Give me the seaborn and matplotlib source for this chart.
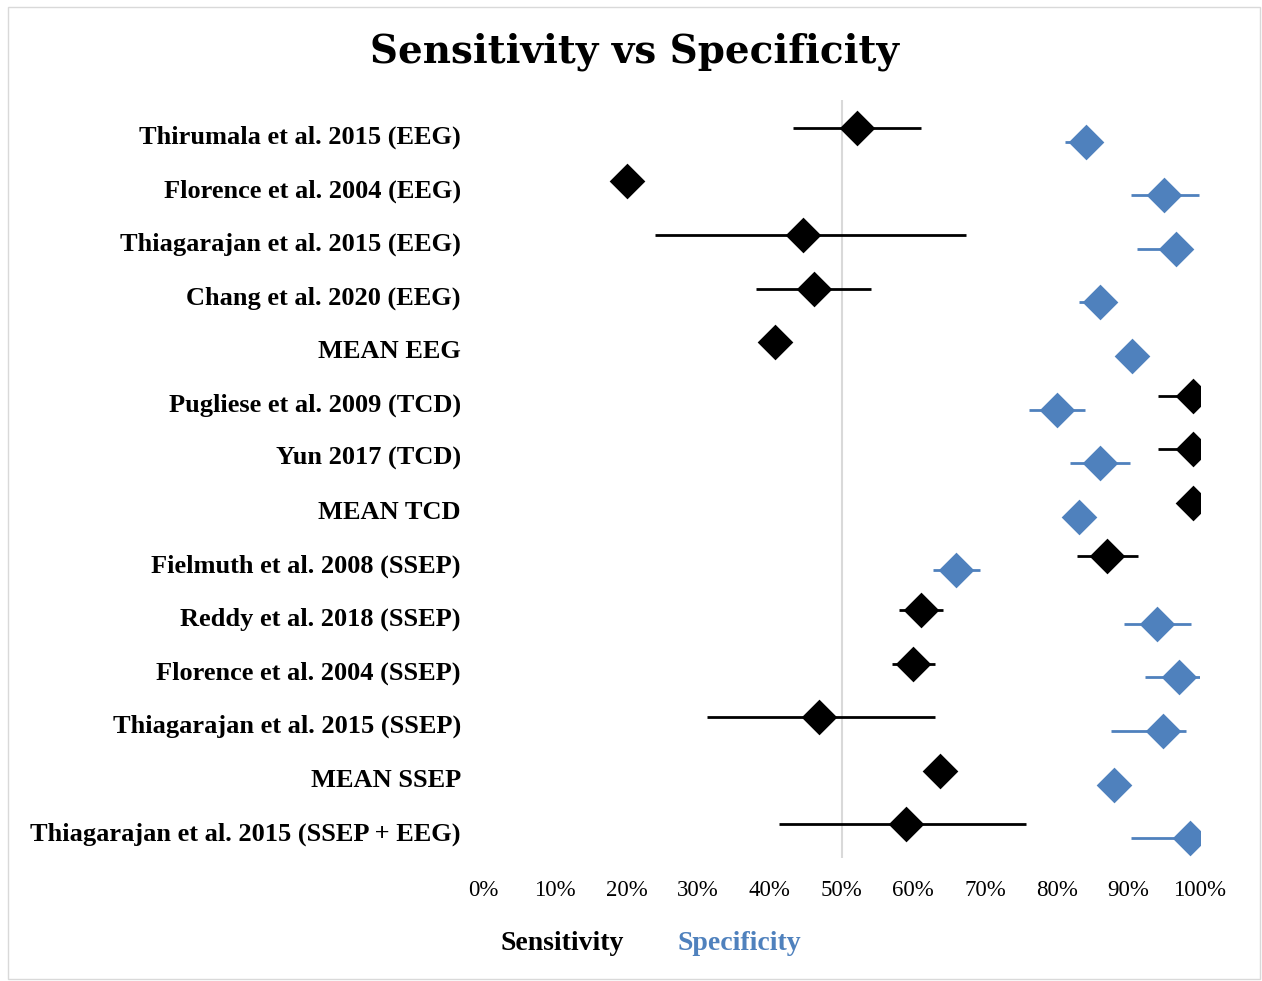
import numpy as np
import pandas as pd
import matplotlib
matplotlib.use("Agg")
import matplotlib.pyplot as plt
import seaborn as sns
from matplotlib.patches import Rectangle

nan = np.nan
labels = ["Thirumala et al. 2015 (EEG)", "Florence et al. 2004 (EEG)",
          "Thiagarajan et al. 2015 (EEG)", "Chang et al. 2020 (EEG)", "MEAN EEG",
          "Pugliese et al. 2009 (TCD)", "Yun 2017 (TCD)", "MEAN TCD",
          "Fielmuth et al. 2008 (SSEP)", "Reddy et al. 2018 (SSEP)",
          "Florence et al. 2004 (SSEP)", "Thiagarajan et al. 2015 (SSEP)",
          "MEAN SSEP", "Thiagarajan et al. 2015 (SSEP + EEG)"]
sens    = [52.1, 20.1, 44.6, 46.1, 40.7, 99.0, 99.0, 99.0, 87.0, 61.1, 60.0, 46.8, 63.8, 59.0]
sens_lo = [43.3, nan, 24.0, 38.1, nan, 94.1, 94.1, 96.9, 82.8, 58.0, 57.1, 31.2, nan, 41.3]
sens_hi = [61.1, nan, 67.3, 54.1, nan, 100., 100., 100., 91.4, 64.2, 63.1, 63.1, nan, 75.7]
spec    = [84.1, 95.0, 96.6, 86.1, 90.5, 80.1, 86.1, 83.1, 66.0, 94.0, 97.1, 94.9, 88.0, 98.6]
spec_lo = [81.2, 90.4, 91.2, 83.1, nan, 76.1, 81.8, nan, 62.8, 89.4, 92.3, 87.6, nan, 90.4]
spec_hi = [86.0, 99.9, 98.8, 88.0, nan, 84.0, 90.3, nan, 69.3, 98.8, 100., 98.0, nan, 100.]
xticks = [0, 10, 20, 30, 40, 50, 60, 70, 80, 90, 100]

BLUE = "#4F81BD"
BLACK = "#000000"

sns.set_theme(style="white")
plt.rcParams['font.family'] = ['Liberation Serif', 'DejaVu Serif']
plt.rcParams['text.color'] = BLACK
plt.rcParams['xtick.color'] = BLACK
plt.rcParams['ytick.color'] = BLACK

pos = np.arange(len(labels))
off = 0.13
df = pd.DataFrame({
    "label": labels, "pos": pos,
    "sens": np.array(sens) / 100, "sens_lo": np.array(sens_lo) / 100, "sens_hi": np.array(sens_hi) / 100,
    "spec": np.array(spec) / 100, "spec_lo": np.array(spec_lo) / 100, "spec_hi": np.array(spec_hi) / 100,
})
df["ys"] = df["pos"] - off
df["yp"] = df["pos"] + off

fig = plt.figure(figsize=(12.62, 9.81), dpi=100)
ax = fig.add_axes([483 / 1262, 123 / 981, 717 / 1262, 758 / 981])

ax.axvline(0.5, color="#D9D9D9", lw=1.5, zorder=0)

m = df["sens_lo"].notna()
ax.hlines(df.loc[m, "ys"], df.loc[m, "sens_lo"], df.loc[m, "sens_hi"], color=BLACK, lw=2.0, zorder=2)
m = df["spec_lo"].notna()
ax.hlines(df.loc[m, "yp"], df.loc[m, "spec_lo"], df.loc[m, "spec_hi"], color=BLUE, lw=2.0, zorder=2)

sns.scatterplot(data=df, x="sens", y="ys", marker="D", s=330, color=BLACK, edgecolor=BLACK,
                linewidth=0, ax=ax, zorder=3, legend=False)
sns.scatterplot(data=df, x="spec", y="yp", marker="D", s=330, color=BLUE, edgecolor=BLUE,
                linewidth=0, ax=ax, zorder=3, legend=False)

ax.set_xlim(0, 1)
ax.set_ylim(13.5, -0.65)
ax.set_yticks(pos)
ax.set_yticklabels(labels, fontsize=19, fontweight="bold")
ax.set_xticks(np.array(xticks) / 100)
ax.set_xticklabels([f"{t}%" for t in xticks], fontsize=16.5)
ax.tick_params(axis="y", length=0, pad=16)
ax.tick_params(axis="x", length=0, pad=16)
ax.set_xlabel("")
ax.set_ylabel("")
for s in ax.spines.values():
    s.set_visible(False)

fig.text(634 / 1262, 1 - 52 / 981, "Sensitivity vs Specificity", ha="center", va="center",
         fontsize=28, fontweight="bold", family=["DejaVu Serif"])
fig.text(562 / 1262, 1 - 944 / 981, "Sensitivity", ha="center", va="center",
         fontsize=20, fontweight="bold", color=BLACK)
fig.text(739 / 1262, 1 - 944 / 981, "Specificity", ha="center", va="center",
         fontsize=20, fontweight="bold", color=BLUE)

fig.patches.append(Rectangle((8 / 1262, 2 / 981), 1252 / 1262, 972 / 981, transform=fig.transFigure,
                             fill=False, edgecolor="#D9D9D9", lw=1.0))

fig.savefig("out.png", dpi=100)
